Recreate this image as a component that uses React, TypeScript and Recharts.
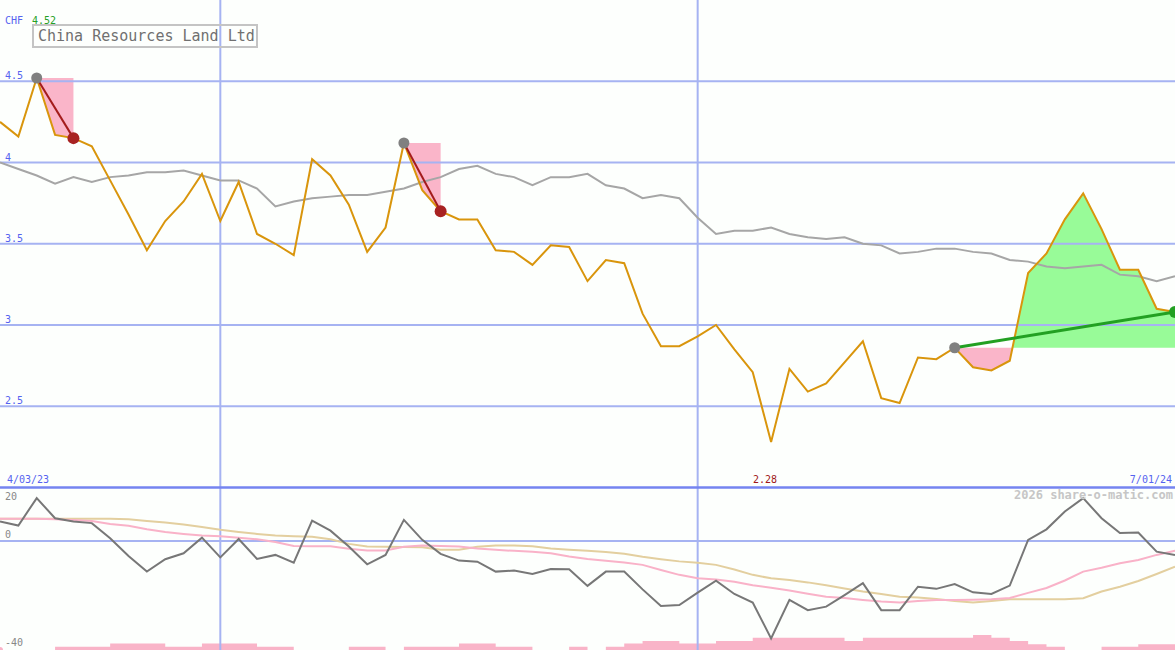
import React from 'react'
import {
  ComposedChart,
  Line,
  Area,
  XAxis,
  YAxis,
  ReferenceLine,
} from 'recharts'

// weekly closes, CHF
const price = [
  4.25, 4.16, 4.52, 4.17, 4.15, 4.1, 3.89, 3.68, 3.46, 3.64,
  3.76, 3.93, 3.64, 3.88, 3.56, 3.5, 3.43, 4.02, 3.92, 3.74,
  3.45, 3.6, 4.12, 3.83, 3.7, 3.65, 3.65, 3.46, 3.45, 3.37,
  3.49, 3.48, 3.27, 3.4, 3.38, 3.07, 2.87, 2.87, 2.93, 3.0,
  2.85, 2.71, 2.28, 2.73, 2.59, 2.64, 2.77, 2.9, 2.55, 2.52,
  2.8, 2.79, 2.86, 2.74, 2.72, 2.78, 3.32, 3.44, 3.65, 3.81,
  3.59, 3.34, 3.34, 3.1, 3.08,
]

// moving average (grey line)
const avg = [
  4.0, 3.96, 3.92, 3.87, 3.91, 3.88, 3.91, 3.92, 3.94, 3.94,
  3.95, 3.92, 3.89, 3.89, 3.84, 3.73, 3.76, 3.78, 3.79, 3.8,
  3.8, 3.82, 3.84, 3.88, 3.91, 3.96, 3.98, 3.93, 3.91, 3.86,
  3.91, 3.91, 3.93, 3.86, 3.84, 3.78, 3.8, 3.78, 3.66, 3.56,
  3.58, 3.58, 3.6, 3.56, 3.54, 3.53, 3.54, 3.5, 3.49, 3.44,
  3.45, 3.47, 3.47, 3.45, 3.44, 3.4, 3.39, 3.36, 3.35, 3.36,
  3.37, 3.31, 3.3, 3.27, 3.3,
]

// lower panel: oscillator + two smoothings
const osc = [
  7.2, 5.7, 15.9, 8.4, 7.2, 6.6, 1.0, -5.6, -11.4, -6.8,
  -4.6, 1.2, -6.1, 0.7, -6.7, -5.2, -8.1, 7.5, 3.8, -2.1,
  -8.7, -5.2, 7.8, 0.4, -4.8, -7.3, -7.7, -11.4, -11.0, -12.3,
  -10.4, -10.5, -16.7, -11.4, -11.4, -18.0, -24.2, -23.8, -19.2, -14.8,
  -19.7, -22.9, -36.2, -21.9, -25.7, -24.4, -20.1, -15.7, -25.7, -25.7,
  -17.0, -17.8, -16.0, -19.1, -19.7, -16.6, 0.4, 4.3, 10.9, 15.9,
  8.4, 2.9, 3.1, -4.0, -5.2,
]

const oscFast = [
  8.2, 8.2, 8.2, 8.0, 7.8, 7.4, 6.3, 5.6, 4.3, 3.3,
  2.6, 2.0, 1.7, 1.2, 0.6, -0.4, -1.9, -2.0, -2.0, -2.9,
  -3.6, -3.6, -2.2, -1.7, -1.9, -2.1, -2.8, -3.3, -3.7, -4.0,
  -4.6, -5.8, -6.7, -7.4, -8.0, -8.9, -10.8, -12.6, -13.9, -14.3,
  -15.2, -16.5, -17.4, -18.4, -19.6, -20.7, -21.2, -21.9, -22.5, -22.9,
  -22.3, -21.9, -21.9, -21.8, -21.7, -21.2, -19.3, -17.5, -14.7, -11.4,
  -10.0, -8.3, -7.1, -5.2, -3.6,
]

const oscSlow = [
  8.2, 8.2, 8.2, 8.2, 8.2, 8.2, 8.2, 8.0, 7.4, 6.8,
  6.1, 5.2, 4.1, 3.3, 2.6, 2.0, 1.7, 1.5, 0.6, -1.1,
  -2.1, -2.2, -2.3, -2.4, -3.3, -3.3, -2.2, -1.7, -1.7, -2.0,
  -2.8, -3.3, -3.7, -4.1, -4.8, -5.9, -6.8, -7.6, -8.1, -8.9,
  -10.6, -12.6, -13.9, -14.5, -15.4, -16.5, -17.7, -18.8, -19.7, -20.7,
  -21.0, -21.6, -22.3, -22.9, -22.3, -21.7, -21.7, -21.7, -21.7, -21.3,
  -18.8, -17.0, -14.9, -12.3, -9.6,
]

const volume = [
  0, 0, 0, 1, 1, 1, 2, 2, 2, 1,
  1, 2, 2, 2, 1, 1, 0, 0, 0, 1,
  1, 0, 1, 1, 1, 2, 2, 1, 1, 0,
  0, 1, 0, 1, 2, 2.8, 2.8, 2, 2, 2.8,
  2.8, 3.8, 3.8, 3.8, 3.8, 3.8, 2.8, 3.8, 3.8, 3.8,
  3.8, 3.8, 3.8, 4.6, 3.8, 2.8, 1.8, 1, 0, 0,
  1, 1, 1.8, 1.8, 1.8,
]

const priceTicks = [2.5, 3, 3.5, 4, 4.5]
const oscTicks = [-40, 0, 20]
const dateTicks = [12, 38]
const dateLabels = ['7/03/23', '1/01/24']
const startLabel = '4/03/23'
const endLabel = '7/01/24'

// trade signals: from peak/trough week to later week
const signals = [
  { from: 2, to: 4 },
  { from: 22, to: 24 },
  { from: 52, to: 64 },
]

const W = 1175
const H = 650
const MONO = '"DejaVu Sans Mono", monospace'
const BG = '#fdfffd'
const BLUE = '#5563f0'
const GRID = '#a6b3f2'
const SEP = '#7584f0'

const rows: any[] = price.map((p, i) => ({
  x: i,
  price: p,
  avg: avg[i],
  osc: osc[i],
  fast: oscFast[i],
  slow: oscSlow[i],
  vol: volume[i],
}))
const crossings: any[] = []
signals.forEach((s, k) => {
  const base = price[s.from]
  rows[s.from]['sig' + k] = base
  rows[s.to]['sig' + k] = price[s.to]
  for (let i = s.from; i <= s.to; i++) {
    const p = price[i]
    if (p <= base) rows[i].below = [p, base]
    if (p >= base) rows[i].above = [base, p]
    if (i < s.to) {
      const q = price[i + 1]
      if ((p - base) * (q - base) < 0) {
        const t = (base - p) / (q - p)
        crossings.push({ x: i + t, price: base, below: [base, base], above: [base, base] })
      }
    }
  }
})
const data = [...rows, ...crossings].sort((a, b) => a.x - b.x)

const hi = Math.max(...price).toFixed(2)
const lo = Math.min(...price).toFixed(2)

function PriceTick(props: any) {
  const { y, payload } = props
  return (
    <text x={5} y={y - 2} fill={BLUE} fontSize={10} fontFamily={MONO}>
      {payload.value}
    </text>
  )
}

function OscTick(props: any) {
  const { y, payload } = props
  const top = payload.value === oscTicks[oscTicks.length - 1]
  return (
    <text x={5} y={top ? y + 13 : y - 3} fill="#888" fontSize={10} fontFamily={MONO}>
      {payload.value}
    </text>
  )
}

function DateTick(props: any) {
  const { x, payload } = props
  const label = dateLabels[dateTicks.indexOf(payload.value)]
  return (
    <g>
      <rect x={x - 22} y={0} width={52} height={15} fill={BG} />
      <text x={x + 4} y={13} textAnchor="middle" fill={BLUE} fontSize={10} fontFamily={MONO}>
        {label}
      </text>
    </g>
  )
}

const signalDot = (k: number) => (props: any) => {
  const { cx, cy, payload, index } = props
  const s = signals[k]
  if (cx == null || cy == null || payload['sig' + k] == null) return <g key={`e${k}-${index}`} />
  const up = price[s.to] > price[s.from]
  if (payload.x === s.from) return <circle key={`s${k}`} cx={cx} cy={cy} r={5.5} fill="#808080" />
  return <circle key={`t${k}`} cx={cx} cy={cy} r={6} fill={up ? '#22a022' : '#a82222'} />
}

export default function App() {
  return (
    <div style={{ position: 'absolute', left: 0, top: 0, width: W, height: H, background: BG, overflow: 'hidden' }}>
      <ComposedChart width={W} height={H} data={data} margin={{ top: 0, right: 0, bottom: 0, left: 0 }}>
        <XAxis
          dataKey="x"
          type="number"
          domain={[0, 64]}
          ticks={dateTicks}
          orientation="top"
          height={0}
          axisLine={false}
          tickLine={false}
          interval={0}
          tick={DateTick}
        />
        <YAxis yAxisId="p" domain={[1, 5]} ticks={priceTicks} width={40} mirror axisLine={false} tickLine={false} interval={0} tick={PriceTick} />
        <YAxis yAxisId="o" domain={[-40.5, 200.8]} ticks={oscTicks} width={40} mirror axisLine={false} tickLine={false} interval={0} tick={OscTick} />
        <YAxis yAxisId="v" domain={[0, 200]} hide />

        {priceTicks.map((v) => (
          <ReferenceLine key={'h' + v} yAxisId="p" y={v} stroke={GRID} strokeWidth={2} />
        ))}
        <ReferenceLine yAxisId="o" y={0} stroke={GRID} strokeWidth={2} />
        {dateTicks.map((v) => (
          <ReferenceLine key={'v' + v} yAxisId="p" x={v} stroke={GRID} strokeWidth={2} />
        ))}
        <ReferenceLine yAxisId="p" y={2} stroke={SEP} strokeWidth={2.5} />

        <Area yAxisId="v" dataKey="vol" type="stepAfter" stroke="none" fill="#f9b4c8" fillOpacity={1} connectNulls isAnimationActive={false} />
        <Area yAxisId="p" dataKey="below" type="linear" stroke="none" fill="#fab5c9" fillOpacity={1} isAnimationActive={false} />
        <Area yAxisId="p" dataKey="above" type="linear" stroke="none" fill="#98fb98" fillOpacity={1} isAnimationActive={false} />

        <Line yAxisId="p" dataKey="avg" stroke="#a6a6a6" strokeWidth={2} dot={false} activeDot={false} connectNulls isAnimationActive={false} />
        <Line yAxisId="o" dataKey="slow" stroke="#e3cf9f" strokeWidth={2} dot={false} activeDot={false} connectNulls isAnimationActive={false} />
        <Line yAxisId="o" dataKey="fast" stroke="#f9b2c8" strokeWidth={2} dot={false} activeDot={false} connectNulls isAnimationActive={false} />
        <Line yAxisId="o" dataKey="osc" stroke="#777777" strokeWidth={2} dot={false} activeDot={false} connectNulls isAnimationActive={false} />
        <Line yAxisId="p" dataKey="price" stroke="#d9950c" strokeWidth={2} dot={false} activeDot={false} isAnimationActive={false} />

        {signals.map((s, k) => (
          <Line
            key={'sig' + k}
            yAxisId="p"
            dataKey={'sig' + k}
            stroke={price[s.to] > price[s.from] ? '#22a022' : '#a41c1c'}
            strokeWidth={price[s.to] > price[s.from] ? 3 : 2}
            dot={signalDot(k)}
            activeDot={false}
            connectNulls
            isAnimationActive={false}
          />
        ))}
      </ComposedChart>

      <svg width={W} height={H} style={{ position: 'absolute', left: 0, top: 0, pointerEvents: 'none' }}>
        <text x={5} y={24} fill={BLUE} fontSize={10} fontFamily={MONO}>CHF</text>
        <text x={32} y={24} fill="#26a026" fontSize={10} fontFamily={MONO}>{hi}</text>
        <rect x={33} y={25} width={224} height={22} fill="none" stroke="#c4c4c4" strokeWidth={2} />
        <text x={38} y={41} fill="#707070" fontSize={15} fontFamily={MONO}>China Resources Land Ltd</text>
        <text x={7} y={483} fill={BLUE} fontSize={10} fontFamily={MONO}>{startLabel}</text>
        <text x={765} y={483} textAnchor="middle" fill="#a01818" fontSize={10} fontFamily={MONO}>{lo}</text>
        <text x={1172} y={483} textAnchor="end" fill={BLUE} fontSize={10} fontFamily={MONO}>{endLabel}</text>
        <text x={1173} y={499} textAnchor="end" fill="#c6c6c6" fontSize={12} fontWeight="bold" fontFamily={MONO}>2026 share-o-matic.com</text>
      </svg>
    </div>
  )
}
